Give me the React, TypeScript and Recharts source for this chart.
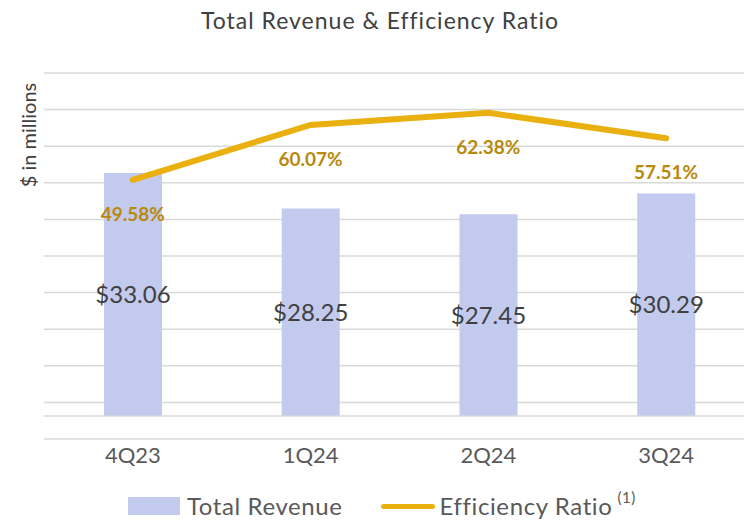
import React from 'react';
import {
  ComposedChart,
  Bar,
  Line,
  XAxis,
  YAxis,
  CartesianGrid,
  LabelList,
  Legend,
  ReferenceLine,
} from 'recharts';

const quarters = ['4Q23', '1Q24', '2Q24', '3Q24'];
const totalRevenue = [33.06, 28.25, 27.45, 30.29];
const efficiencyRatio = [49.58, 60.07, 62.38, 57.51];
const pctTicks = [0, 7, 14, 21, 28, 35, 42, 49, 56, 63, 70];

const data = quarters.map((q, i) => ({
  quarter: q,
  revenue: totalRevenue[i],
  efficiency: efficiencyRatio[i],
}));

const FONT = 'Lato, "Open Sans", sans-serif';
const BAR_COLOR = '#c2caee';
const LINE_COLOR = '#e9b00f';
const PCT_COLOR = '#b8890c';
const GRID = '#d9d9d9';

function PctLabel(props: any) {
  const { x, y, value } = props;
  return (
    <text
      x={x}
      y={y + 41}
      textAnchor="middle"
      fill={PCT_COLOR}
      fontSize={19}
      fontWeight={700}
      fontFamily={FONT}
    >
      {`${Number(value).toFixed(2)}%`}
    </text>
  );
}

function LegendBox() {
  return (
    <div
      style={{
        display: 'flex',
        alignItems: 'center',
        fontFamily: FONT,
        fontSize: 24,
        lineHeight: '24px',
        letterSpacing: 0.6,
        color: '#595959',
        paddingLeft: 128,
        whiteSpace: 'nowrap',
      }}
    >
      <span style={{ display: 'inline-block', width: 52, height: 18, background: BAR_COLOR, marginRight: 7 }} />
      <span>Total Revenue</span>
      <span
        style={{
          display: 'inline-block',
          width: 54,
          height: 5,
          borderRadius: 3,
          background: LINE_COLOR,
          marginLeft: 38,
          marginRight: 5,
        }}
      />
      <span>Efficiency Ratio</span>
      <span style={{ fontSize: 15, marginLeft: 5, position: 'relative', top: -9 }}>(1)</span>
    </div>
  );
}

export default function App() {
  return (
    <div
      style={{
        position: 'absolute',
        top: 0,
        left: 0,
        width: 744,
        height: 521,
        overflow: 'hidden',
        background: '#fff',
      }}
    >
      <div
        style={{
          position: 'absolute',
          top: 6,
          left: 0,
          width: 760,
          textAlign: 'center',
          fontFamily: FONT,
          fontSize: 23,
          letterSpacing: 1,
          color: '#404040',
        }}
      >
        Total Revenue &amp; Efficiency Ratio
      </div>
      <div
        style={{
          position: 'absolute',
          left: 28,
          top: 135,
          transform: 'translate(-50%, -50%) rotate(-90deg)',
          fontFamily: FONT,
          fontSize: 20,
          color: '#404040',
          whiteSpace: 'nowrap',
        }}
      >
        $ in millions
      </div>
      <ComposedChart
        width={760}
        height={521}
        data={data}
        margin={{ top: 73, right: 5, left: 44, bottom: 10 }}
      >
        <CartesianGrid
          yAxisId="pct"
          vertical={false}
          stroke={GRID}
          strokeWidth={1.5}
        />
        <XAxis
          dataKey="quarter"
          axisLine={false}
          tickLine={false}
          height={46}
          tick={{ fontSize: 22, fill: '#595959', fontFamily: FONT }}
          tickMargin={2}
        />
        <YAxis yAxisId="bar" hide domain={[-3.13, 46.67]} />
        <YAxis yAxisId="pct" hide domain={[0, 70]} ticks={pctTicks} />
        <ReferenceLine yAxisId="bar" y={0} stroke={GRID} strokeWidth={1.5} />
        <Bar
          yAxisId="bar"
          dataKey="revenue"
          name="Total Revenue"
          fill={BAR_COLOR}
          barSize={58}
          isAnimationActive={false}
        >
          <LabelList
            dataKey="revenue"
            position="center"
            formatter={(v: any) => `$${Number(v).toFixed(2)}`}
            style={{ fontSize: 24, fill: '#404040', fontFamily: FONT }}
          />
        </Bar>
        <Line
          yAxisId="pct"
          dataKey="efficiency"
          name="Efficiency Ratio"
          stroke={LINE_COLOR}
          strokeWidth={6}
          strokeLinecap="round"
          dot={false}
          activeDot={false}
          isAnimationActive={false}
        >
          <LabelList dataKey="efficiency" content={PctLabel} />
        </Line>
        <Legend
          verticalAlign="bottom"
          height={26}
          wrapperStyle={{ left: 0, width: 744, top: 494, bottom: 'auto', height: 26 }}
          content={() => <LegendBox />}
        />
      </ComposedChart>
    </div>
  );
}
